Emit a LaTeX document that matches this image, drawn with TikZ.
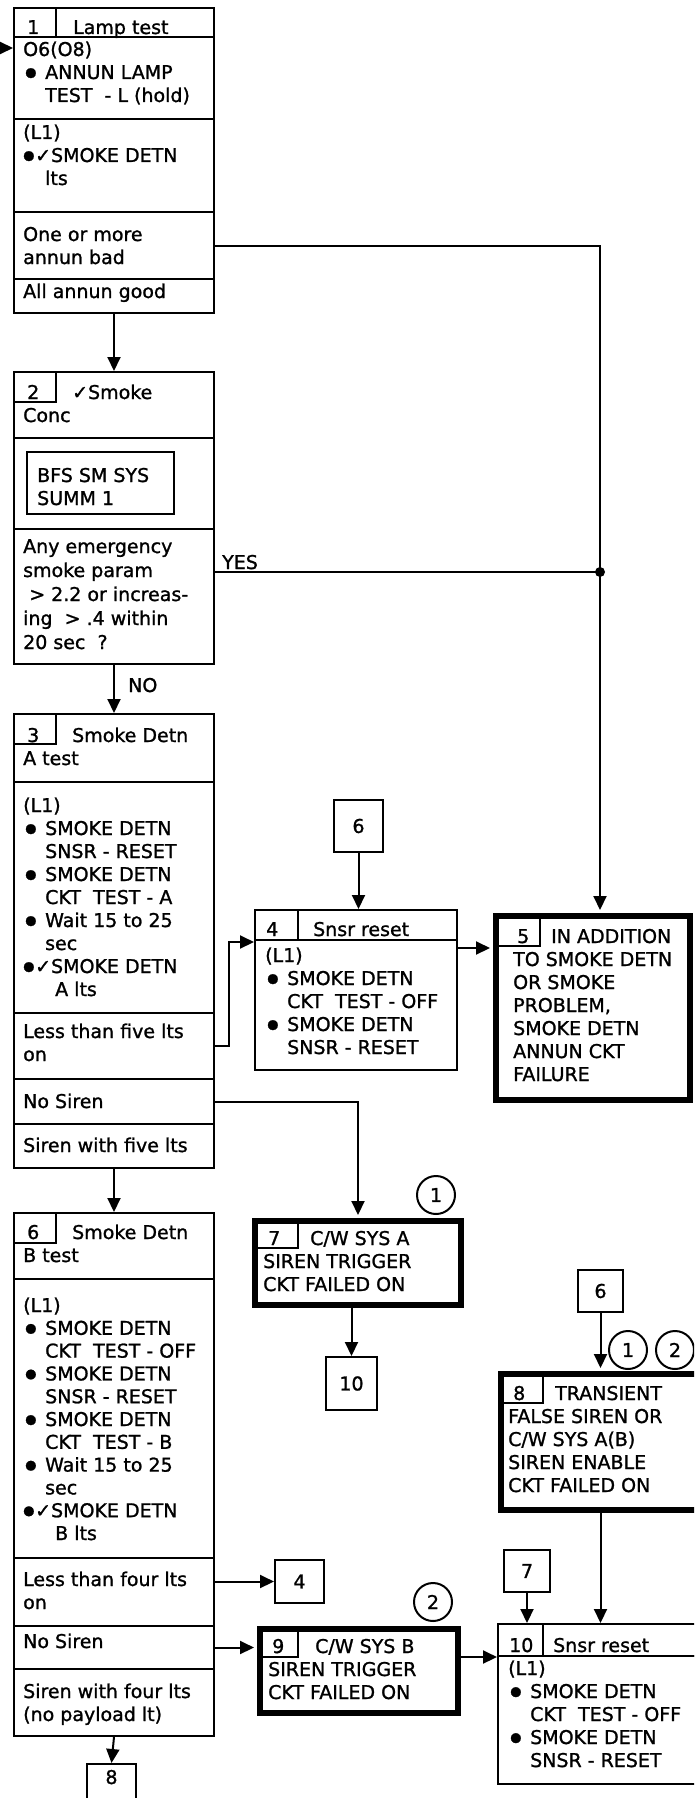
\documentclass[tikz,border=0pt]{standalone}
\usepackage{fontspec}
\setmainfont{DejaVu Sans}[FakeBold=1.2]
\usetikzlibrary{arrows.meta}
\newcommand{\fs}{\fontsize{19}{23}\selectfont}
\newcommand{\tb}[1]{\parbox[t]{240pt}{\raggedright #1}}
\newcommand{\bl}{\makebox[22pt][l]{\hspace{2pt}\raisebox{2.5pt}{\fontsize{13}{13}\selectfont ●}}}
\newcommand{\blc}{\makebox[12pt][l]{\raisebox{2.5pt}{\fontsize{13}{13}\selectfont ●}}✓}
\newcommand{\ind}{\hspace*{22pt}}
\begin{document}
\begin{tikzpicture}[x=1pt,y=-1pt,
  ln/.style={line width=2pt},
  sec/.style={draw, line width=2pt, rectangle, inner sep=0pt, anchor=north west, minimum width=200pt},
  cell/.style={draw, line width=1.6pt, rectangle, inner sep=0pt, anchor=north west},
  fat/.style={draw, line width=6pt, rectangle, inner sep=0pt, anchor=north west},
  refbox/.style={draw, line width=2pt, rectangle, inner sep=0pt, font=\fs},
  circ/.style={draw, line width=2pt, circle, inner sep=0pt, minimum size=38pt, font=\fs},
  txt/.style={inner sep=0pt, anchor=base west, font=\fs},
  arr/.style={line width=2pt, -{Triangle[length=14pt,width=13pt]}},
]
\path[use as bounding box, fill=white] (0,0) rectangle (694,1798);
\clip (0,0) rectangle (694,1798);

% ---------- Box 1
\node[sec, minimum height=29pt] (b1h) at (13,7) {};
\node[cell, minimum width=42pt, minimum height=29pt] (b1n) at (13,7) {};
\node[sec, minimum height=82pt] (b1a) at (13,36) {};
\node[sec, minimum height=93pt] (b1b) at (13,118) {};
\node[sec, minimum height=67pt] (b1c) at (13,211) {};
\node[sec, minimum height=34pt] (b1d) at (13,278) {};
\node[txt] (t1n) at (27,34) {1};
\node[txt] (t1h) at (73,34) {Lamp test};
\node[txt] (t1a) at (23,56) {\tb{O6(O8)\\\bl ANNUN LAMP\\\ind TEST\ \ - L (hold)}};
\node[txt] (t1b) at (23,139) {\tb{(L1)\\\blc SMOKE DETN\\\ind lts}};
\node[txt] (t1c) at (23,241) {\tb{One or more\\annun bad}};
\node[txt] (t1d) at (23,298) {All annun good};

% ---------- Box 2
\node[sec, minimum height=66pt] (b2h) at (13,371) {};
\node[cell, minimum width=42pt, minimum height=30pt] (b2n) at (13,371) {};
\node[sec, minimum height=91pt] (b2b) at (13,437) {};
\node[cell, line width=2pt, minimum width=147pt, minimum height=62pt] (bfs) at (26,451) {};
\node[sec, minimum height=135pt] (b2c) at (13,528) {};
\node[txt] (t2n) at (27,399) {2};
\node[txt] (t2h) at (23,399) {\tb{\hspace*{49pt}✓Smoke\\Conc}};
\node[txt] (tbfs) at (37,482) {\tb{BFS SM SYS\\SUMM 1}};
\node[txt, font=\fontsize{19}{24}\selectfont] (t2c) at (23,553) {\tb{Any emergency\\smoke param\\\ > 2.2 or increas-\\ing\ \ > .4 within\\20 sec\ \ ?}};

% ---------- Box 3
\node[sec, minimum height=68pt] (b3h) at (13,713) {};
\node[cell, minimum width=42pt, minimum height=30pt] (b3n) at (13,713) {};
\node[sec, minimum height=231pt] (b3b) at (13,781) {};
\node[sec, minimum height=66pt] (b3c) at (13,1012) {};
\node[sec, minimum height=45pt] (b3d) at (13,1078) {};
\node[sec, minimum height=44pt] (b3e) at (13,1123) {};
\node[txt] (t3n) at (27,742) {3};
\node[txt] (t3h) at (23,742) {\tb{\hspace*{49pt}Smoke Detn\\A test}};
\node[txt] (t3b) at (23,812) {\tb{(L1)\\\bl SMOKE DETN\\\ind SNSR - RESET\\\bl SMOKE DETN\\\ind CKT\ \ TEST - A\\\bl Wait 15 to 25\\\ind sec\\\blc SMOKE DETN\\\hspace*{32pt}A lts}};
\node[txt] (t3c) at (23,1038) {\tb{Less than five lts\\on}};
\node[txt] (t3d) at (23,1108) {No Siren};
\node[txt] (t3e) at (23,1152) {Siren with five lts};

% ---------- Box 6
\node[sec, minimum height=66pt] (b6h) at (13,1212) {};
\node[cell, minimum width=42pt, minimum height=30pt] (b6n) at (13,1212) {};
\node[sec, minimum height=279pt] (b6b) at (13,1278) {};
\node[sec, minimum height=68pt] (b6c) at (13,1557) {};
\node[sec, minimum height=43pt] (b6d) at (13,1625) {};
\node[sec, minimum height=67pt] (b6e) at (13,1668) {};
\node[txt] (t6n) at (27,1239) {6};
\node[txt] (t6h) at (23,1239) {\tb{\hspace*{49pt}Smoke Detn\\B test}};
\node[txt, font=\fontsize{19}{22.8}\selectfont] (t6b) at (23,1312) {\tb{(L1)\\\bl SMOKE DETN\\\ind CKT\ \ TEST - OFF\\\bl SMOKE DETN\\\ind SNSR - RESET\\\bl SMOKE DETN\\\ind CKT\ \ TEST - B\\\bl Wait 15 to 25\\\ind sec\\\blc SMOKE DETN\\\hspace*{32pt}B lts}};
\node[txt] (t6c) at (23,1586) {\tb{Less than four lts\\on}};
\node[txt] (t6d) at (23,1648) {No Siren};
\node[txt] (t6e) at (23,1698) {\tb{Siren with four lts\\(no payload lt)}};

% ---------- Box 4
\node[sec, minimum width=202pt, minimum height=30pt] (b4h) at (254,909) {};
\node[cell, minimum width=43pt, minimum height=30pt] (b4n) at (254,909) {};
\node[sec, minimum width=202pt, minimum height=130pt] (b4b) at (254,939) {};
\node[txt] (t4n) at (266,936) {4};
\node[txt] (t4h) at (313,936) {Snsr reset};
\node[txt] (t4b) at (265,962) {\tb{(L1)\\\bl SMOKE DETN\\\ind CKT\ \ TEST - OFF\\\bl SMOKE DETN\\\ind SNSR - RESET}};

% ---------- Box 5
\node[fat, minimum width=194pt, minimum height=184pt] (b5) at (493,913) {};
\node[cell, minimum width=43pt, minimum height=29pt] (b5n) at (496,916) {};
\node[txt] (t5n) at (517,943) {5};
\node[txt] (t5) at (513,943) {\tb{\hspace*{38pt}IN ADDITION\\TO SMOKE DETN\\OR SMOKE\\PROBLEM,\\SMOKE DETN\\ANNUN CKT\\FAILURE}};

% ---------- Box 7
\node[fat, minimum width=206pt, minimum height=84pt] (b7) at (252,1218) {};
\node[cell, minimum width=42pt, minimum height=26pt] (b7n) at (255,1221) {};
\node[txt] (t7n) at (268,1245) {7};
\node[txt] (t7) at (263,1245) {\tb{\hspace*{47pt}C/W SYS A\\SIREN TRIGGER\\CKT FAILED ON}};

% ---------- Box 8
\node[fat, minimum width=230pt, minimum height=136pt] (b8) at (498,1371) {};
\node[cell, minimum width=41pt, minimum height=28pt] (b8n) at (501,1374) {};
\node[txt] (t8n) at (513,1400) {8};
\node[txt] (t8) at (508,1400) {\tb{\hspace*{47pt}TRANSIENT\\FALSE SIREN OR\\C/W SYS A(B)\\SIREN ENABLE\\CKT FAILED ON}};

% ---------- Box 9
\node[fat, minimum width=198pt, minimum height=84pt] (b9) at (257,1626) {};
\node[cell, minimum width=37pt, minimum height=27pt] (b9n) at (260,1629) {};
\node[txt] (t9n) at (272,1653) {9};
\node[txt] (t9) at (268,1653) {\tb{\hspace*{47pt}C/W SYS B\\SIREN TRIGGER\\CKT FAILED ON}};

% ---------- Box 10
\node[sec, minimum width=230pt, minimum height=32pt] (b10h) at (497,1623) {};
\node[cell, minimum width=45pt, minimum height=32pt] (b10n) at (497,1623) {};
\node[sec, minimum width=230pt, minimum height=128pt] (b10b) at (497,1655) {};
\node[txt] (t10n) at (509,1652) {10};
\node[txt] (t10h) at (553,1652) {Snsr reset};
\node[txt] (t10b) at (508,1675) {\tb{(L1)\\\bl SMOKE DETN\\\ind CKT\ \ TEST - OFF\\\bl SMOKE DETN\\\ind SNSR - RESET}};

% ---------- reference boxes
\node[refbox, minimum width=49pt, minimum height=52pt] (r6a) at (358.5,826) {6};
\node[refbox, minimum width=51pt, minimum height=53pt] (r10) at (351.5,1383.5) {10};
\node[refbox, minimum width=45pt, minimum height=42pt] (r6b) at (600.5,1291) {6};
\node[refbox, minimum width=46pt, minimum height=42pt] (r7) at (527,1571) {7};
\node[refbox, minimum width=49pt, minimum height=43pt] (r4) at (299.5,1581.5) {4};
\node[refbox, minimum width=49pt, minimum height=52pt, anchor=north] (r8) at (111.5,1763) {};
\node[txt, anchor=base] (t8r) at (111.5,1784) {8};

% ---------- circles
\node[circ] (c1a) at (436,1195) {1};
\node[circ] (c1b) at (628,1350) {1};
\node[circ] (c2b) at (675,1350) {2};
\node[circ] (c2a) at (433,1602) {2};

% ---------- connectors
\coordinate (in0) at (0,48);
\coordinate (jn) at (600,572);
\draw[arr] (in0) -- (in0 -| b1a.west);
\draw[arr] (b1d.south) -- (b2h.north);
\draw[arr, shorten >=3pt] (b1c.east) -| (jn |- b5.north);
\draw[ln] (b2c.east |- jn) -- (jn);
\fill (jn) circle[radius=5pt];
\node[txt] (yes) at (222,569) {YES};
\draw[arr] (b2c.south) -- (b3h.north);
\node[txt] (no) at (128,692) {NO};
\draw[arr] (b3c.east) -- ++(14,0) |- ([yshift=-3pt]b4b.north west);
\draw[arr, shorten >=3pt] (b3d.east) -| (b7.north);
\draw[arr] (b3e.south) -- (b6h.north);
\draw[arr] (r6a.south) -- (r6a.south |- b4h.north);
\draw[arr, shorten >=3pt] ([yshift=-9pt]b4b.north east) -- ([yshift=-9pt]b4b.north east -| b5.west);
\draw[arr] (r10.north |- b7.south) -- (r10.north);
\draw[arr, shorten >=3pt] (r6b.south) -- (r6b.south |- b8.north);
\draw[arr] (r6b.south |- b8.south) -- (r6b.south |- b10h.north);
\draw[arr] (r7.south) -- (r7.south |- b10h.north);
\draw[arr] (b9.east |- b10h.south) -- (b10h.south west);
\draw[arr] (b6c.east |- r4.west) -- (r4.west);
\draw[arr, shorten >=3pt] (b6d.east) -- (b6d.east -| b9.west);
\draw[arr] (b6e.south) -- (r8.north);
\end{tikzpicture}
\end{document}
